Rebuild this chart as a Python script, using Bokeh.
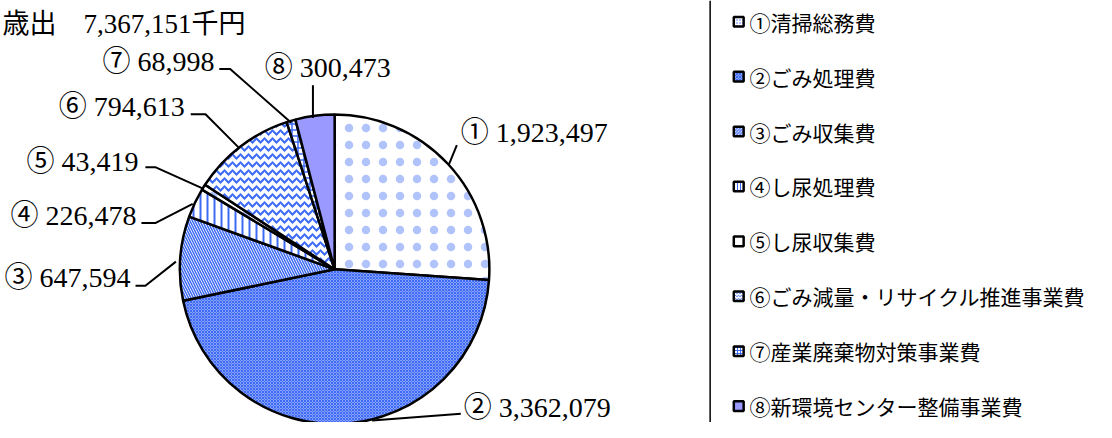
import math
from bokeh.plotting import figure
from bokeh.models import Range1d, Span
from bokeh.core.properties import value
from bokeh.embed import file_html
from bokeh.resources import INLINE

# ---- data ----
title_text = "歳出　7,367,151千円"
categories = ["①清掃総務費", "②ごみ処理費", "③ごみ収集費", "④し尿処理費",
              "⑤し尿収集費", "⑥ごみ減量・リサイクル推進事業費",
              "⑦産業廃棄物対策事業費", "⑧新環境センター整備事業費"]
marks = ["①", "②", "③", "④", "⑤", "⑥", "⑦", "⑧"]
amounts = [1923497, 3362079, 647594, 226478, 43419, 794613, 68998, 300473]

# ---- styles ----
fills = ["white", "#86a1f7", "white", "white", "white", "white", "white", "#9999ff"]
hatches = ["dot", "diagonal_cross", "left_diagonal_line", "vertical_line",
           "dot", "horizontal_wave", "cross", " "]
hatch_scales = [17, 3, 5, 7, 17, 8, 6, 12]
hatch_weights = [0.5, 1.0, 1.5, 2.0, 0.5, 2.0, 1.5, 1.0]
hatch_alphas = [0.4, 1, 1, 1, 0.4, 1, 1, 1]
HCOL = "#3d6af5"
SERIF = value("Liberation Serif, Noto Sans CJK JP")

# ---- layout (reference px coordinates) ----
REF_W, REF_H = 1112, 438
W, H = 1096, 422
CX, CY, R = 339, 279, 157
lab_x = [467, 470, 132, 138, 140, 187, 217, 268]
lab_y = [137, 422, 288, 223, 167, 110, 63, 70]
lab_align = ["left", "left", "right", "right", "right", "right", "right", "left"]
leaders = [
    [(463, 150), (455, 170)],
    [(377, 436), (467, 429)],
    [(137, 296), (147, 296), (178, 271)],
    [(143, 231), (157, 231), (195, 211)],
    [(147, 173), (157, 173), (205, 195)],
    [(193, 118), (208, 118), (242, 153)],
    [(222, 71), (233, 71), (295, 127)],
    [(317, 88), (317, 122)],
]
leg_x, leg_y0, leg_dy = 749, 22, 57
leg_text_x = 760

p = figure(width=W, height=H, output_backend="svg", toolbar_location=None,
           x_range=Range1d(0, REF_W), y_range=Range1d(-REF_H, 0),
           min_border=0, outline_line_color=None)
p.axis.visible = False
p.grid.visible = False
p.background_fill_color = "white"

total = sum(amounts)
cum = 0.0
starts, ends = [], []
for a in amounts:
    s = cum / total
    cum += a
    e = cum / total
    starts.append(math.pi / 2 - 2 * math.pi * e)
    ends.append(math.pi / 2 - 2 * math.pi * s)

for i in range(len(amounts)):
    p.wedge(x=CX, y=-CY, radius=R, start_angle=starts[i], end_angle=ends[i],
            fill_color=fills[i], hatch_pattern=hatches[i], hatch_color=HCOL,
            hatch_scale=hatch_scales[i], hatch_weight=hatch_weights[i],
            hatch_alpha=hatch_alphas[i], line_color="black", line_width=2.5)

for pts in leaders:
    p.line(x=[q[0] for q in pts], y=[-q[1] for q in pts], line_color="black", line_width=2)

labels = [f"{m} {a:,}" for m, a in zip(marks, amounts)]
for i, t in enumerate(labels):
    p.text(x=[lab_x[i]], y=[-lab_y[i]], text=[t], text_align=lab_align[i],
           text_baseline="middle", text_font_size="28px",
           text_font=SERIF, text_color="black")

p.text(x=[2], y=[-24], text=[title_text], text_align="left", text_baseline="alphabetic",
       text_font_size="27px", text_font=SERIF, text_color="black")

p.add_layout(Span(location=720, dimension="height", line_color="black", line_width=1.5))

leg_hatches = ["dot", "diagonal_cross", "left_diagonal_line", "vertical_line",
               " ", "horizontal_wave", "cross", " "]
for i, c in enumerate(categories):
    y = -(leg_y0 + i * leg_dy)
    p.rect(x=[leg_x], y=[y], width=10, height=10, fill_color=fills[i],
           hatch_pattern=leg_hatches[i], hatch_color=HCOL, hatch_scale=3,
           hatch_weight=1, line_color="black", line_width=2.5)
    p.text(x=[leg_text_x], y=[y], text=[c], text_align="left", text_baseline="middle",
           text_font_size="21px", text_font=value("Noto Sans CJK JP"), text_color="black")

open("out.html", "w").write(file_html(p, INLINE))
